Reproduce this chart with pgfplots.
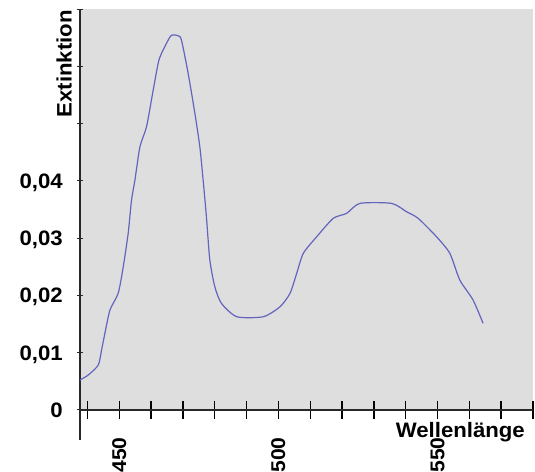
\documentclass[border=0pt]{standalone}
\usepackage{fontspec}
\setmainfont{Liberation Sans}
\newfontfamily\lblfont[FakeStretch=1.06]{Liberation Sans}
\usepackage{pgfplots}
\pgfplotsset{compat=1.18}
\definecolor{bggray}{RGB}{222,222,222}
\definecolor{curve}{RGB}{100,100,190}
\definecolor{axgray}{RGB}{40,40,40}
\begin{document}
\begin{tikzpicture}
\useasboundingbox (0,0) rectangle (535bp,472bp);
\begin{axis}[
  at={(80bp,62bp)}, anchor=south west,
  width=453bp, height=401bp, scale only axis,
  xmin=437.67, xmax=580, ymin=0, ymax=0.07,
  axis x line=bottom, axis y line=left,
  axis line style={-, axgray, line width=1.2bp},
  axis background/.style={fill=bggray},
  tick align=center,
  xtick={450,500,550},
  minor xtick={440,460,470,480,490,510,520,530,540,560,570,580},
  ytick={0,0.01,0.02,0.03,0.04},
  minor ytick={0.05,0.06,0.07},
  yticklabels={0,{0,01},{0,02},{0,03},{0,04}},
  xtick style={black, line width=1.4bp, /pgfplots/major tick length=18bp, /pgfplots/minor tick length=18bp},
  ytick style={axgray, line width=1bp, /pgfplots/major tick length=6bp, /pgfplots/minor tick length=6bp},
  /pgf/number format/assume math mode=true,
  tick label style={font=\lblfont\fontsize{21}{25}\selectfont\bfseries, inner sep=0pt},
  xticklabel style={rotate=90, anchor=east, font=\lblfont\fontsize{20}{24}\selectfont\bfseries},
  yticklabel style={text depth=0pt},
  xticklabel shift=25bp,
  yticklabel shift=15bp,
  clip=false,
]
\addplot[curve, line width=1.2bp, smooth, tension=0.4] coordinates {
(437.67,0.00524) (440.27,0.00611) (443.41,0.00785) (444.45,0.01047)
(445.51,0.01344) (447.08,0.01745) (449.69,0.02042) (451.26,0.02501)
(452.82,0.03089) (453.86,0.03665) (454.93,0.04014) (456.50,0.04595)
(458.57,0.04944) (460.67,0.05585) (462.24,0.06056) (463.27,0.06225)
(466.22,0.06532) (468.51,0.06532) (469.55,0.06457) (471.65,0.05876)
(473.75,0.05183) (475.32,0.04595) (476.36,0.04014) (477.39,0.03373)
(478.46,0.02618) (480.03,0.02152) (482.10,0.01862) (486.93,0.01628)
(495.28,0.01628) (500.52,0.01803) (503.66,0.02037) (505.76,0.02386)
(507.83,0.02735) (512.03,0.03024) (517.24,0.03346) (521.45,0.03433)
(525.62,0.03607) (535.57,0.03607) (540.27,0.03461) (543.91,0.03346)
(549.69,0.03024) (553.86,0.02735) (557.00,0.02269) (561.17,0.01920)
(564.31,0.01513)
};
\draw[axgray, line width=1.2bp] (rel axis cs:0,0) -- ++(0bp,-30bp);
\node[rotate=90, anchor=south east, inner sep=0pt, font=\lblfont\fontsize{21}{25}\selectfont\bfseries]
  at ([xshift=-8bp,yshift=-1bp]rel axis cs:0,1) {Extinktion};
\node[anchor=north east, inner sep=0pt, font=\lblfont\fontsize{21}{25}\selectfont\bfseries]
  at ([xshift=-8bp,yshift=-12bp]rel axis cs:1,0) {Wellenlänge};
\end{axis}
\end{tikzpicture}
\end{document}
